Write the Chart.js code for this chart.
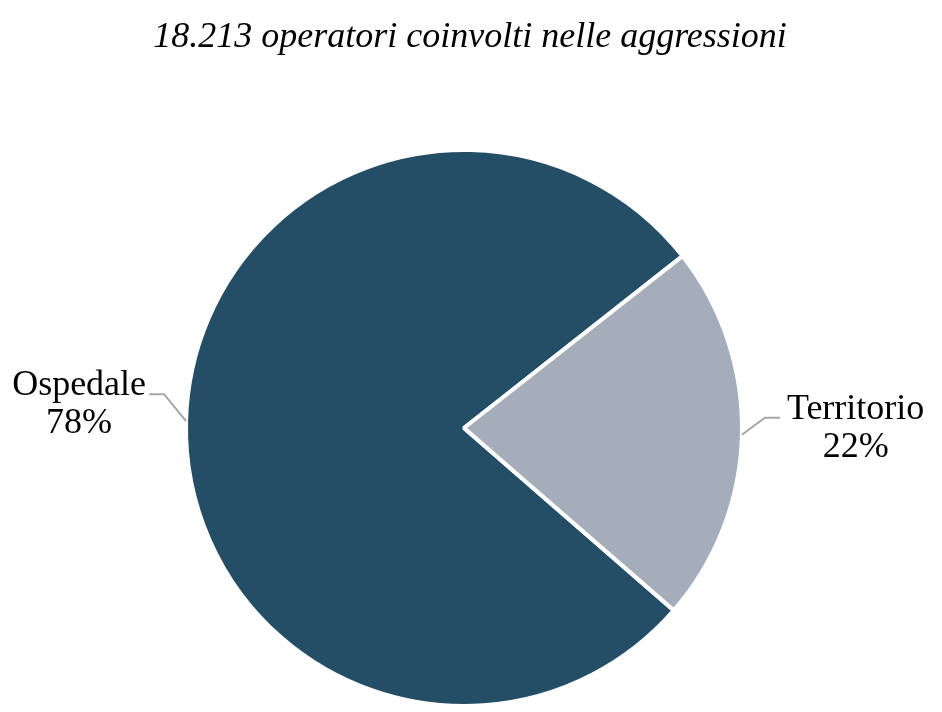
<!DOCTYPE html>
<html>
<head>
<meta charset="utf-8">
<script src="https://cdn.jsdelivr.net/npm/chart.js@4/dist/chart.umd.min.js"></script>
<style>
  html, body { margin: 0; padding: 0; background: #fff; }
  canvas { display: block; }
</style>
</head>
<body>
<canvas id="pieChart" width="942" height="712"></canvas>
<script>
const title = "18.213 operatori coinvolti nelle aggressioni";
const labels = ["Ospedale", "Territorio"];
const values = [78, 22];
const colors = ["#244d66", "#a4adb9"];

// leader line bends: [dx, dy] from the arc edge to the elbow
const elbows = [[-22, -27], [23, -17]];

const sliceLabels = {
  id: "sliceLabels",
  afterDatasetsDraw(chart) {
    const ctx = chart.ctx;
    const meta = chart.getDatasetMeta(0);
    const total = values.reduce((a, b) => a + b, 0);
    ctx.save();
    ctx.font = "36px 'Liberation Serif'";
    ctx.fillStyle = "#000";
    meta.data.forEach((arc, i) => {
      const p = arc.getProps(["x", "y", "startAngle", "endAngle", "outerRadius"], true);
      const mid = (p.startAngle + p.endAngle) / 2;
      const px = p.x + Math.cos(mid) * p.outerRadius;
      const py = p.y + Math.sin(mid) * p.outerRadius;
      const left = Math.cos(mid) < 0;
      const ex = px + elbows[i][0];
      const ey = py + elbows[i][1];
      const hx = ex + (left ? -15 : 15);

      ctx.strokeStyle = "#a6a6a6";
      ctx.lineWidth = 2;
      ctx.beginPath();
      ctx.moveTo(px, py);
      ctx.lineTo(ex, ey);
      ctx.lineTo(hx, ey);
      ctx.stroke();

      const pct = Math.round(values[i] / total * 100) + "%";
      const w = ctx.measureText(labels[i]).width;
      const cx = left ? hx - w / 2 - 3 : hx + w / 2 + 7;
      ctx.textAlign = "center";
      ctx.textBaseline = "alphabetic";
      ctx.fillText(labels[i], cx, ey + 1);
      ctx.fillText(pct, cx, ey + 39);
    });
    ctx.restore();
  }
};

const chartTitle = {
  id: "chartTitle",
  afterDraw(chart) {
    const ctx = chart.ctx;
    ctx.save();
    ctx.font = "italic 36px 'Liberation Serif'";
    ctx.fillStyle = "#000";
    ctx.textAlign = "center";
    ctx.textBaseline = "alphabetic";
    ctx.fillText(title, 470, 47);
    ctx.restore();
  }
};

new Chart(document.getElementById("pieChart"), {
  type: "pie",
  data: {
    labels: labels,
    datasets: [{
      data: values,
      backgroundColor: colors,
      borderColor: "#ffffff",
      borderWidth: 4,
      radius: 278
    }]
  },
  options: {
    responsive: false,
    animation: false,
    rotation: 131,
    layout: { padding: { top: 150, bottom: 6, left: 150, right: 164 } },
    plugins: {
      legend: { display: false },
      title: { display: false },
      tooltip: { enabled: false }
    }
  },
  plugins: [sliceLabels, chartTitle]
});
</script>
</body>
</html>
